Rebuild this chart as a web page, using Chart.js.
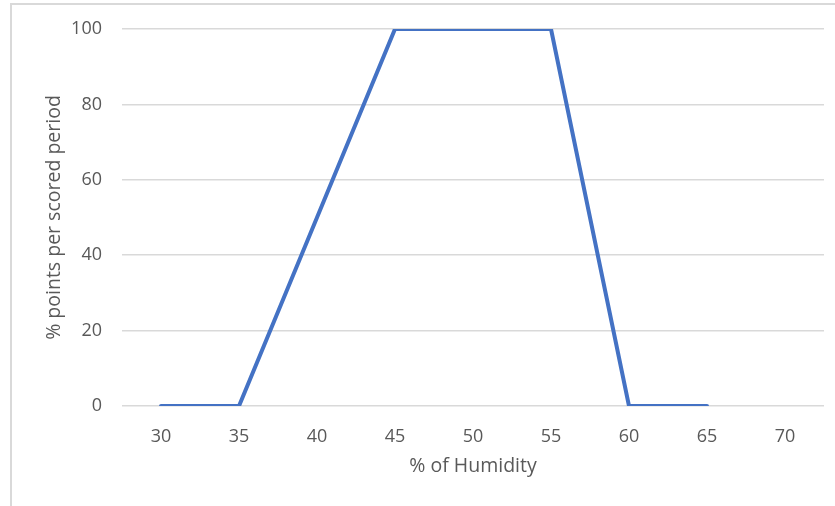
<!DOCTYPE html>
<html>
<head>
<meta charset="utf-8">
<script src="https://cdn.jsdelivr.net/npm/chart.js@4"></script>
<style>
  html, body { margin: 0; padding: 0; background: #fff; }
  #frame { position: absolute; left: 10px; top: 3px; width: 900px; height: 600px;
           border-left: 2px solid #d9d9d9; border-top: 2px solid #d9d9d9; }
  #wrap { position: absolute; left: 0; top: 0; width: 835px; height: 506px; }
</style>
</head>
<body>
<div id="frame"></div>
<div id="wrap"><canvas id="grafico" width="835" height="506"></canvas></div>
<script>
const humidade = ['30', '35', '40', '45', '50', '55', '60', '65', '70'];
const pontos = [0, 0, 50, 100, 100, 100, 0, 0, null];
const ticksY = [0, 20, 40, 60, 80, 100];

document.addEventListener('DOMContentLoaded', function() {
  const fonte = { family: 'Open Sans', size: 18 };
  const fonteTitulo = { family: 'Open Sans', size: 19.5 };
  const ctx = document.getElementById('grafico').getContext('2d');
  new Chart(ctx, {
    type: 'line',
    data: {
      labels: humidade,
      datasets: [{
        label: 'Pontos',
        data: pontos,
        borderColor: '#4472c4',
        borderWidth: 4,
        borderCapStyle: 'round',
        borderJoinStyle: 'miter',
        pointRadius: 0,
        tension: 0,
        fill: false
      }]
    },
    options: {
      responsive: false,
      animation: false,
      layout: { padding: { top: 29, right: 11, left: 0, bottom: 0 } },
      plugins: { legend: { display: false }, tooltip: { enabled: false } },
      scales: {
        x: {
          offset: true,
          grid: { display: false },
          border: { display: false },
          ticks: { color: '#595959', font: fonte, padding: 12, maxRotation: 0 },
          title: { display: true, text: '% of Humidity', color: '#595959',
                   font: fonteTitulo, padding: { top: 0, bottom: 28 } },
          afterFit: function(axis) { axis.height = 100; }
        },
        y: {
          min: 0,
          max: 100,
          afterBuildTicks: function(axis) { axis.ticks = ticksY.map(v => ({ value: v })); },
          grid: { color: '#d9d9d9', lineWidth: 1.5, drawTicks: false },
          border: { display: false },
          ticks: { color: '#595959', font: fonte, padding: 20 },
          title: { display: true, text: '% points per scored period', color: '#595959',
                   font: fonteTitulo, padding: { top: 43, bottom: 0 } },
          afterFit: function(axis) {
            axis.width = 122;
            axis.paddingTop = 0;
            axis.paddingBottom = 0;
          }
        }
      }
    }
  });
});
</script>
</body>
</html>
